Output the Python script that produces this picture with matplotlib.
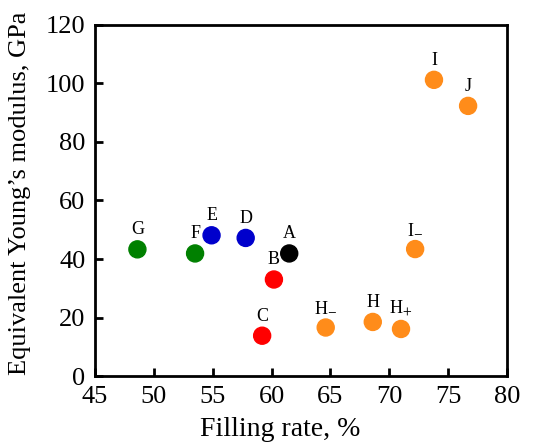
import matplotlib
matplotlib.use("Agg")
import matplotlib.pyplot as plt

plt.rcParams["font.family"] = ["Liberation Serif", "DejaVu Serif"]
plt.rcParams["mathtext.fontset"] = "stix"

labels = ["A", "B", "C", "D", "E", "F", "G", "H$_{-}$", "H", "H$_{+}$", "I$_{-}$", "I", "J"]
filling_rate = [61.5, 60.2, 59.2, 57.8, 54.9, 53.5, 48.6, 64.6, 68.6, 71.0, 72.2, 73.8, 76.7]
modulus = [41.9, 33.0, 13.8, 47.2, 48.1, 41.9, 43.3, 16.6, 18.5, 16.1, 43.4, 101.2, 92.3]
colors = ["black", "#ff0000", "#ff0000", "#0000cc", "#0000cc", "#008000", "#008000",
          "#ff8c1a", "#ff8c1a", "#ff8c1a", "#ff8c1a", "#ff8c1a", "#ff8c1a"]

fig = plt.figure(figsize=(5.37, 4.43), dpi=100)
ax = fig.add_axes([0.177, 0.151, 0.767, 0.793])

ax.scatter(filling_rate, modulus, s=150, c=colors, zorder=3)
for x, y, lab in zip(filling_rate, modulus, labels):
    ax.annotate(lab, (x, y), xytext=(0, 8), textcoords="offset points",
                ha="center", va="bottom", fontsize=13)

ax.set_xlim(45, 80)
ax.set_ylim(0, 120)
ax.set_xticks(range(45, 81, 5))
ax.set_yticks(range(0, 121, 20))
ax.tick_params(direction="in", length=6, width=2, labelsize=19)
ax.tick_params(axis="x", pad=7)
ax.tick_params(axis="y", pad=7)
for sp in ax.spines.values():
    sp.set_linewidth(2)
ax.set_xlabel("Filling rate, %", fontsize=20, labelpad=1)
ax.xaxis.set_label_coords(0.45, -0.115)
ax.set_ylabel("Equivalent Young\u2019s modulus, GPa", fontsize=19)
ax.yaxis.set_label_coords(-0.155, 0.52)

fig.savefig("out.png", dpi=100)
